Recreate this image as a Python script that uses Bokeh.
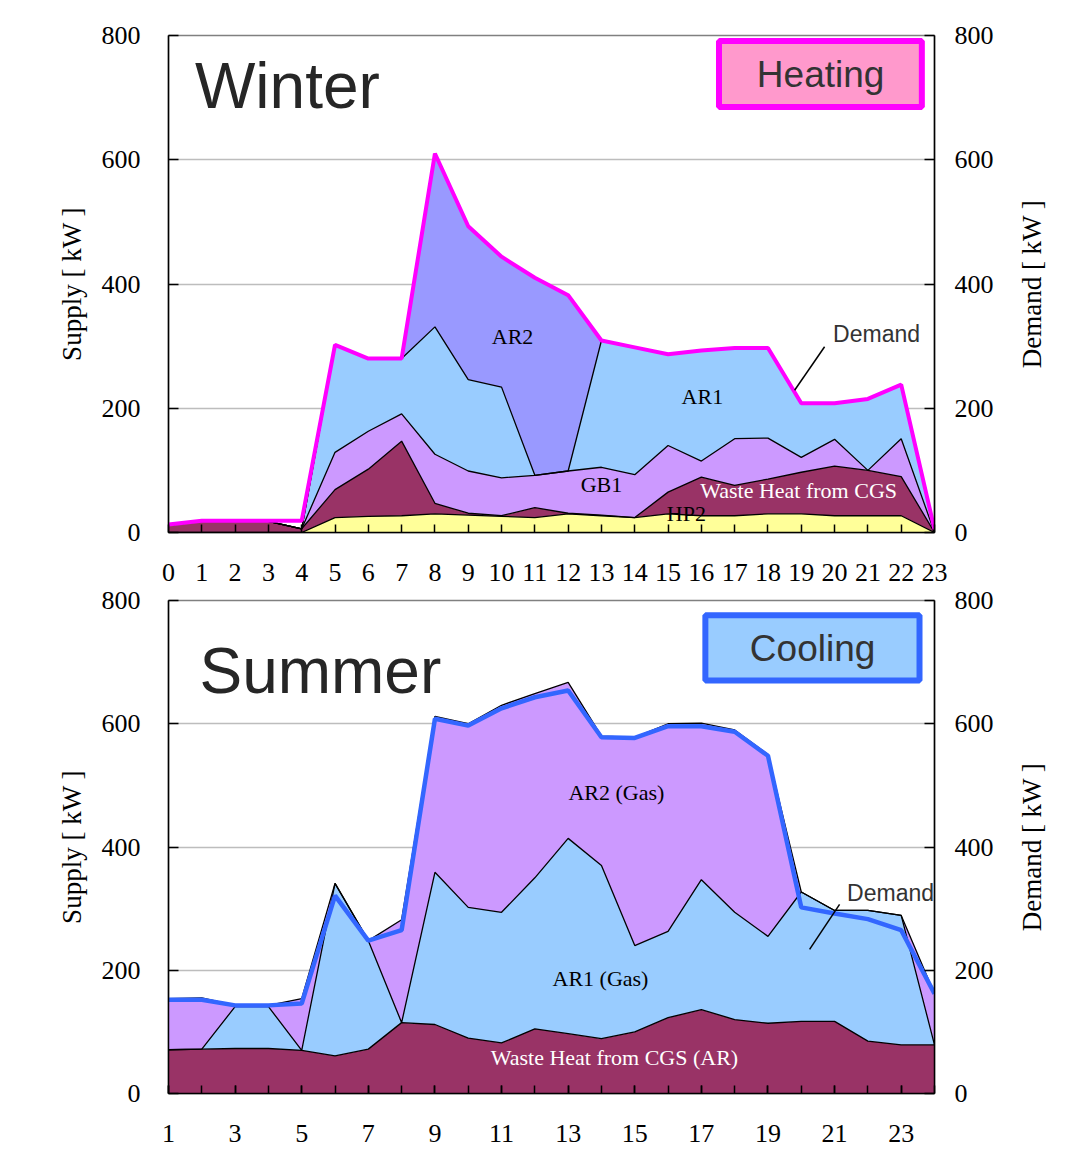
import numpy as np
from bokeh.plotting import figure
from bokeh.models import (ColumnDataSource, Range1d, LinearAxis, FixedTicker, Label,
                          BoxAnnotation, Arrow)
from bokeh.layouts import column, row
from bokeh.embed import file_html
from bokeh.resources import INLINE

# ---------------- Winter (heating) data, kW per hour ----------------
w_hours = list(range(24))
w_hp2 = [0, 0, 0, 0, 0, 24, 26, 27, 30, 28, 26, 24, 30, 27, 24, 30, 27, 27, 30, 30, 27, 27, 27, 0]
w_cgs = [12, 18, 18, 18, 6, 45, 76, 120, 17, 3, 1, 16, 1, 1, 0, 35, 62, 49, 56, 67, 80, 73, 63, 0]
w_gb1 = [0, 0, 0, 0, 0, 60, 61, 44, 79, 68, 61, 52, 68, 77, 69, 75, 26, 75, 66, 24, 43, 0, 61, 0]
w_ar1 = [0, 0, 0, 0, 0, 173, 117, 89, 205, 147, 146, 0, 0, 204, 205, 147, 178, 146, 145, 87, 58, 116, 87, 0]
w_ar2 = [0, 0, 0, 0, 0, 0, 0, 0, 279, 247, 210, 318, 283, 0, 0, 0, 0, 0, 0, 0, 0, 0, 0, 0]
w_demand = [13, 19, 19, 19, 19, 302, 280, 280, 610, 493, 444, 410, 382, 309, 298, 287, 293, 297, 297, 208, 208, 215, 238, 5]
w_xticks = list(range(0, 24))

# ---------------- Summer (cooling) data, kW per hour ----------------
s_hours = list(range(1, 25))
s_cgs = [71, 72, 73, 73, 70, 61, 72, 115, 112, 90, 82, 105, 97, 89, 100, 123, 136, 120, 114, 117, 117, 85, 79, 79]
s_ar1 = [0, 0, 68, 68, 0, 280, 176, 0, 247, 212, 212, 245, 317, 281, 140, 140, 211, 174, 141, 210, 180, 212, 210, 0]
s_ar2 = [83, 83, 2, 2, 84, 0, 0, 167, 253, 298, 336, 299, 253, 210, 338, 337, 254, 296, 295, 0, 0, 0, 0, 83]
s_demand = [152, 152, 143, 143, 146, 321, 248, 265, 608, 597, 625, 643, 654, 578, 577, 596, 596, 587, 548, 302, 292, 283, 265, 162]
s_xticks = list(range(1, 25, 2))
s_xminor = list(range(1, 25))

y_ticks = [0, 200, 400, 600, 800]

SERIF = "Liberation Serif"
SANS = "Liberation Sans"


def style_axis(ax, ticker):
    ax.ticker = ticker
    ax.major_tick_in = 10
    ax.major_tick_out = 0
    ax.minor_tick_in = 0
    ax.minor_tick_out = 0
    ax.axis_line_color = "black"
    ax.axis_line_width = 1.5
    ax.major_tick_line_color = "black"
    ax.major_tick_line_width = 1.5
    ax.major_label_text_font = SERIF
    ax.major_label_text_font_size = "26px"
    ax.major_label_text_color = "black"
    ax.major_label_text_line_height = 1.0


def make_fig(height, top_b, bottom_b, x0, x1, xticker):
    p = figure(width=1012, height=height, x_range=Range1d(x0, x1), y_range=Range1d(0, 800),
               output_backend="svg", toolbar_location=None,
               min_border_left=168, min_border_right=78,
               min_border_top=top_b, min_border_bottom=bottom_b)
    p.outline_line_color = "#808080"
    p.outline_line_width = 1.5
    p.xgrid.visible = False
    p.ygrid.ticker = FixedTicker(ticks=[200, 400, 600])
    p.ygrid.grid_line_color = "#BDBDBD"
    p.ygrid.grid_line_width = 1.5

    style_axis(p.xaxis[0], xticker)
    p.xaxis[0].major_label_standoff = 31
    p.xaxis[0].major_tick_in = 8

    y = p.yaxis[0]
    style_axis(y, FixedTicker(ticks=y_ticks))
    y.major_label_standoff = 28
    y.axis_label = "Supply [ kW ]"
    y.axis_label_text_font = SERIF
    y.axis_label_text_font_size = "27px"
    y.axis_label_text_font_style = "normal"
    y.axis_label_text_color = "black"
    y.axis_label_standoff = 12

    r = LinearAxis()
    style_axis(r, FixedTicker(ticks=y_ticks))
    r.major_label_standoff = 20
    p.add_layout(r, "right")
    return p


def make_side(height, top_b, bottom_b, text):
    # narrow companion panel holding the right-hand axis title
    s = figure(width=50, height=height, x_range=Range1d(0, 50), y_range=Range1d(0, 800),
               output_backend="svg", toolbar_location=None,
               x_axis_location=None, y_axis_location=None,
               min_border_left=0, min_border_right=0,
               min_border_top=top_b, min_border_bottom=bottom_b)
    s.outline_line_color = None
    s.grid.visible = False
    s.add_layout(Label(x=19, y=400, text=text, text_font=SERIF, text_font_size="27px",
                       text_color="black", text_align="center", text_baseline="middle",
                       angle=90, angle_units="deg"))
    return s


def add_text(p, x, y, text, font=SERIF, size="22px", color="black"):
    p.add_layout(Label(x=x, y=y, text=text, text_font=font, text_font_size=size,
                       text_color=color, text_align="center", text_baseline="middle"))


# ======================= Winter =======================
H1, T1, B1 = 587, 35, 55
p1 = make_fig(H1, T1, B1, 0, 23, FixedTicker(ticks=w_xticks))
src1 = ColumnDataSource(dict(hour=w_hours, hp2=w_hp2, cgs=w_cgs, gb1=w_gb1, ar1=w_ar1,
                             ar2=w_ar2, demand=w_demand))
w_stack = ["hp2", "cgs", "gb1", "ar1", "ar2"]
w_colors = ["#FFFF99", "#993366", "#CC99FF", "#99CCFF", "#9999FF"]
p1.varea_stack(stackers=w_stack, x="hour", color=w_colors, source=src1)
p1.vline_stack(stackers=w_stack, x="hour", color="black", line_width=1.3, source=src1)
p1.line("hour", "demand", source=src1, color="#FF00FF", line_width=4)

p1.add_layout(BoxAnnotation(left=16.53, right=22.62, bottom=685, top=791,
                            fill_color="#FF99CC", fill_alpha=1.0,
                            line_color="#FF00FF", line_width=6, line_alpha=1.0))
add_text(p1, 19.58, 737, "Heating", font=SANS, size="37px", color="#333333")
add_text(p1, 3.57, 719, "Winter", font=SANS, size="64px", color="#262626")
add_text(p1, 10.33, 315, "AR2")
add_text(p1, 16.03, 219, "AR1")
add_text(p1, 13.0, 77, "GB1")
add_text(p1, 18.92, 68, "Waste Heat from CGS", color="white")
add_text(p1, 15.55, 30, "HP2")
add_text(p1, 21.26, 320, "Demand", font=SANS, size="23px", color="#333333")
p1.add_layout(Arrow(end=None, x_start=19.70, y_start=299, x_end=18.80, y_end=229,
                    line_color="black", line_width=1.5))
s1 = make_side(H1, T1, B1, "Demand [ kW ]")

# ======================= Summer =======================
H2, T2, B2 = 581, 13, 75
p2 = make_fig(H2, T2, B2, 1, 24, FixedTicker(ticks=s_xticks, minor_ticks=s_xminor))
p2.xaxis[0].minor_tick_in = 8
p2.xaxis[0].minor_tick_line_color = "black"
p2.xaxis[0].minor_tick_line_width = 1.5
src2 = ColumnDataSource(dict(hour=s_hours, cgs=s_cgs, ar1=s_ar1, ar2=s_ar2, demand=s_demand))
s_stack = ["cgs", "ar1", "ar2"]
s_colors = ["#993366", "#99CCFF", "#CC99FF"]
p2.varea_stack(stackers=s_stack, x="hour", color=s_colors, source=src2)
p2.vline_stack(stackers=s_stack, x="hour", color="black", line_width=1.3, source=src2)
p2.line("hour", "demand", source=src2, color="#3366FF", line_width=4.5)

p2.add_layout(BoxAnnotation(left=17.12, right=23.55, bottom=670, top=776,
                            fill_color="#99CCFF", fill_alpha=1.0,
                            line_color="#3366FF", line_width=6, line_alpha=1.0))
add_text(p2, 20.34, 722, "Cooling", font=SANS, size="37px", color="#333333")
add_text(p2, 5.56, 686, "Summer", font=SANS, size="64px", color="#262626")
add_text(p2, 14.45, 488, "AR2 (Gas)")
add_text(p2, 13.97, 187, "AR1 (Gas)")
add_text(p2, 14.39, 58, "Waste Heat from CGS (AR)", color="white")
add_text(p2, 22.68, 326, "Demand", font=SANS, size="23px", color="#333333")
p2.add_layout(Arrow(end=None, x_start=21.15, y_start=307, x_end=20.25, y_end=234,
                    line_color="black", line_width=1.5))
s2 = make_side(H2, T2, B2, "Demand [ kW ]")

layout = column(row(p1, s1), row(p2, s2))
open("out.html", "w").write(file_html(layout, INLINE))
